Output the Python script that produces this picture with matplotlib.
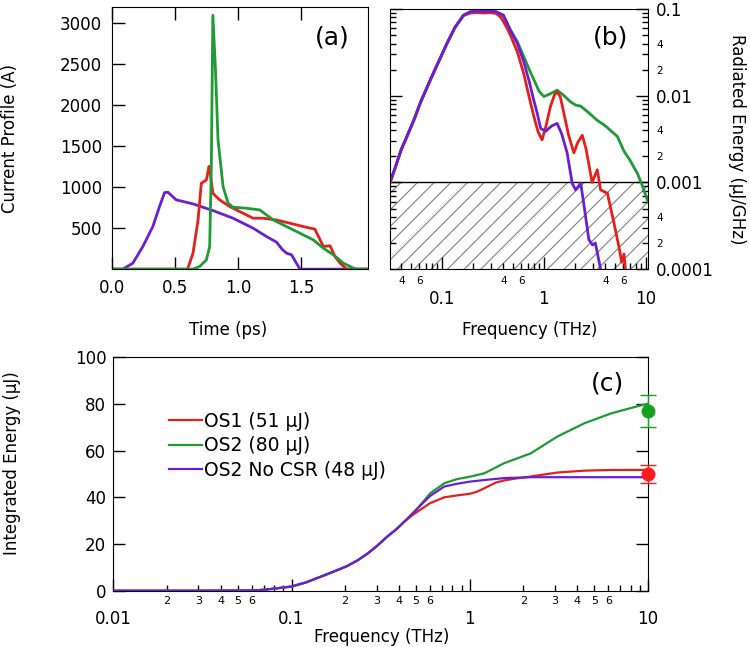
import numpy as np
import matplotlib
matplotlib.use('Agg')
import matplotlib.pyplot as plt
from matplotlib.ticker import FixedLocator, FuncFormatter

plt.rcParams['font.family'] = 'DejaVu Sans'
plt.rcParams['hatch.linewidth'] = 0.8

RED = '#e3201c'
GREEN = '#1f9a35'
PURPLE = '#6a1fd4'

# ---- panel (a): current profile vs time ----
t_os1 = [0.0, 0.60, 0.643, 0.683, 0.709, 0.749, 0.770, 0.780, 0.80, 0.854, 0.934, 1.013, 1.119, 1.198,
         1.304, 1.41, 1.516, 1.608, 1.675, 1.728, 1.767, 1.807, 1.86, 2.03]
i_os1 = [0, 0, 195, 600, 1049, 1090, 1255, 1170, 927, 846, 764, 703, 622, 622,
         600, 561, 520, 488, 276, 285, 154, 73, 0, 0]
t_os2 = [0.0, 0.643, 0.696, 0.749, 0.775, 0.788, 0.800, 0.820, 0.841, 0.881, 0.921, 0.960, 1.066, 1.172,
         1.278, 1.384, 1.489, 1.595, 1.675, 1.754, 1.833, 1.913, 1.94, 2.03]
i_os2 = [0, 0, 33, 114, 276, 1250, 3100, 2470, 1577, 1008, 805, 756, 744, 723,
         601, 520, 439, 358, 256, 175, 73, 12, 0, 0]
t_nocsr = [0.0, 0.087, 0.167, 0.246, 0.325, 0.378, 0.418, 0.444, 0.511, 0.643, 0.802, 0.960, 1.119,
           1.225, 1.304, 1.35, 1.384, 1.423, 1.489, 2.03]
i_nocsr = [0, 0, 73, 276, 520, 764, 935, 940, 846, 797, 715, 622, 500,
           398, 330, 240, 195, 175, 0, 0]

# ---- panel (b): radiated energy spectrum (log-log) ----
f_rise = [0.031, 0.035, 0.040, 0.045, 0.053, 0.062, 0.077, 0.090, 0.112, 0.135, 0.163, 0.19, 0.22, 0.26, 0.30, 0.34]
e_rise = [0.001, 0.0015, 0.0024, 0.0033, 0.0052, 0.0085, 0.0152, 0.0228, 0.040, 0.062, 0.085, 0.093, 0.095, 0.094, 0.095, 0.093]
e_rise_os1 = [0.001, 0.0015, 0.0024, 0.0033, 0.0052, 0.0085, 0.0152, 0.0228, 0.040, 0.062, 0.084, 0.090, 0.091, 0.090, 0.091, 0.089]

fb_os1 = [0.38, 0.43, 0.47, 0.55, 0.635, 0.72, 0.80, 0.88, 0.96, 1.05, 1.16, 1.27, 1.35, 1.45, 1.57, 1.75,
          1.97, 2.15, 2.38, 2.6, 2.97, 3.34, 3.6, 4.2, 4.87, 5.45, 5.8, 6.1, 6.3]
eb_os1 = [0.080, 0.062, 0.050, 0.032, 0.018, 0.0095, 0.0057, 0.0038, 0.0031, 0.0045, 0.0075, 0.0102, 0.0111,
          0.0097, 0.0063, 0.0035, 0.0022, 0.0029, 0.0035, 0.0024, 0.0010, 0.0014, 0.00082, 0.00075, 0.00034,
          0.00018, 0.00012, 0.00015, 0.0001]
fb_os2 = [0.40, 0.47, 0.55, 0.635, 0.72, 0.80, 0.90, 1.0, 1.15, 1.35, 1.55, 1.83, 2.05, 2.29, 2.7, 3.34,
          3.8, 4.19, 4.7, 5.25, 6.1, 7.0, 8.27, 9.3, 10.5]
eb_os2 = [0.085, 0.0573, 0.042, 0.0282, 0.020, 0.0152, 0.0112, 0.0098, 0.0105, 0.0116, 0.0102, 0.0085,
          0.0078, 0.0076, 0.0065, 0.0052, 0.0047, 0.0043, 0.0038, 0.0034, 0.0023, 0.0018, 0.00127, 0.0009, 0.0006]
fb_nocsr = [0.40, 0.47, 0.55, 0.635, 0.72, 0.796, 0.86, 0.93, 1.04, 1.2, 1.35, 1.5, 1.69, 1.9, 2.05, 2.3,
            2.5, 2.76, 3.0, 3.2, 3.6]
eb_nocsr = [0.085, 0.057, 0.040, 0.0247, 0.0145, 0.0089, 0.0063, 0.0042, 0.0039, 0.0045, 0.0048, 0.0036,
            0.0022, 0.00097, 0.00082, 0.00098, 0.0005, 0.00022, 0.00019, 0.0002, 0.0001]

# ---- panel (c): integrated energy ----
fc_low = [0.01, 0.03, 0.06, 0.07, 0.08, 0.1, 0.12, 0.147, 0.17, 0.203, 0.235, 0.268, 0.30, 0.345, 0.39, 0.43]
ec_low = [0, 0, 0.1, 0.4, 0.9, 1.8, 3.5, 6.1, 8.0, 10.4, 13.0, 16.0, 19.0, 23.2, 26.5, 29.6]
fc_os1 = [0.47, 0.51, 0.6, 0.72, 0.85, 1.0, 1.1, 1.21, 1.4, 1.56, 1.8, 2.2, 3.1, 4.4, 6.2, 8.75, 10]
ec_os1 = [32.0, 33.9, 37.5, 40.0, 40.8, 41.5, 42.4, 43.9, 46.3, 47.2, 48.0, 48.9, 50.6, 51.4, 51.7, 51.7, 51.7]
fc_os2 = [0.47, 0.51, 0.6, 0.72, 0.85, 1.0, 1.21, 1.56, 2.2, 3.1, 4.4, 6.2, 8.75, 10]
ec_os2 = [32.5, 35.3, 41.7, 46.0, 47.8, 48.8, 50.3, 54.6, 58.8, 66.0, 71.7, 75.9, 79.0, 80.0]
fc_nocsr = [0.47, 0.51, 0.6, 0.72, 0.85, 1.0, 1.21, 1.56, 2.2, 3.1, 10]
ec_nocsr = [32.5, 35.3, 40.6, 44.6, 45.8, 46.7, 47.4, 48.2, 48.6, 48.6, 48.6]

meas_f = [10, 10]
meas_e = [77, 50]
meas_err = [7, 4]
labels = ['OS1 (51 µJ)', 'OS2 (80 µJ)', 'OS2 No CSR (48 µJ)']


def minor_fmt(keep):
    def f(v, pos):
        m = int(round(v / 10 ** np.floor(np.log10(v) + 1e-9)))
        return str(m) if m in keep else ''
    return FuncFormatter(f)


def minor_positions(lo, hi):
    out = []
    for d in range(lo, hi):
        for m in range(2, 10):
            out.append(m * 10.0 ** d)
    return out


fig = plt.figure(figsize=(7.5, 6.47), dpi=100)

# (a)
ax1 = fig.add_axes([0.149, 0.584, 0.342, 0.405])
ax1.plot(t_nocsr, i_nocsr, color=PURPLE, lw=2)
ax1.plot(t_os1, i_os1, color=RED, lw=2)
ax1.plot(t_os2, i_os2, color=GREEN, lw=2)
ax1.set_xlim(0, 2.03)
ax1.set_ylim(0, 3200)
ax1.set_xticks([0.0, 0.5, 1.0, 1.5])
ax1.set_xticklabels(['0.0', '0.5', '1.0', '1.5'])
ax1.set_yticks([500, 1000, 1500, 2000, 2500, 3000])
ax1.tick_params(direction='in', length=9, width=1, top=True, right=False, labelsize=12, pad=7)
ax1.set_xlabel('Time (ps)', fontsize=12)
ax1.set_ylabel('Current Profile (A)', fontsize=12)
ax1.xaxis.set_label_coords(0.453, -0.198)
ax1.yaxis.set_label_coords(-0.36, 0.5)
ax1.text(0.86, 0.885, '(a)', transform=ax1.transAxes, fontsize=18, ha='center', va='center')

# (b)
ax2 = fig.add_axes([0.52, 0.584, 0.344, 0.402])
ax2.axhspan(1e-4, 1e-3, facecolor='none', edgecolor='#808080', hatch='//', lw=0, zorder=0)
ax2.axhline(1e-3, color='k', lw=1, zorder=1)
ax2.plot(f_rise + fb_os2, e_rise + eb_os2, color=GREEN, lw=2)
ax2.plot(f_rise + fb_os1, e_rise_os1 + eb_os1, color=RED, lw=2)
ax2.plot(f_rise + fb_nocsr, e_rise + eb_nocsr, color=PURPLE, lw=2)
ax2.set_xscale('log')
ax2.set_yscale('log')
ax2.set_xlim(0.031, 10.5)
ax2.set_ylim(1e-4, 1e-1)
ax2.xaxis.set_major_locator(FixedLocator([0.1, 1, 10]))
ax2.xaxis.set_major_formatter(FuncFormatter(lambda v, p: f'{v:g}'))
ax2.xaxis.set_minor_locator(FixedLocator(minor_positions(-2, 1)))
ax2.xaxis.set_minor_formatter(minor_fmt({4, 6}))
ax2.yaxis.set_major_locator(FixedLocator([1e-4, 1e-3, 1e-2, 1e-1]))
ax2.yaxis.set_major_formatter(FuncFormatter(lambda v, p: f'{v:g}'))
ax2.yaxis.set_minor_locator(FixedLocator(minor_positions(-4, -1)))
ax2.yaxis.set_minor_formatter(minor_fmt({2, 4}))
ax2.yaxis.tick_right()
ax2.yaxis.set_label_position('right')
ax2.tick_params(which='both', direction='in', width=1, left=True, right=True, top=False)
ax2.tick_params(which='major', length=8.5, labelsize=12)
ax2.tick_params(which='minor', length=4, labelsize=7.5)
ax2.tick_params(axis='x', which='major', pad=15)
ax2.tick_params(axis='x', which='minor', pad=5)
ax2.tick_params(axis='y', which='both', pad=6)
ax2.set_xlabel('Frequency (THz)', fontsize=12)
ax2.set_ylabel('Radiated Energy (µJ/GHz)', fontsize=12, rotation=270, va='bottom')
ax2.xaxis.set_label_coords(0.54, -0.2)
ax2.yaxis.set_label_coords(1.31, 0.5)
ax2.text(0.853, 0.892, '(b)', transform=ax2.transAxes, fontsize=18, ha='center', va='center')

# (c)
ax3 = fig.add_axes([0.151, 0.087, 0.713, 0.361])
h1, = ax3.plot(fc_low + fc_os1, ec_low + ec_os1, color=RED, lw=1.6, zorder=2)
h2, = ax3.plot(fc_low + fc_os2, ec_low + ec_os2, color=GREEN, lw=1.6, zorder=2)
h3, = ax3.plot(fc_low + fc_nocsr, ec_low + ec_nocsr, color=PURPLE, lw=1.6, zorder=3)
for fv, ev, er, c in zip(meas_f, meas_e, meas_err, ['#16a020', '#ff1c1c']):
    ax3.errorbar([fv], [ev], yerr=[er], fmt='o', color=c, ms=9, capsize=6, elinewidth=1,
                 capthick=1, clip_on=False, zorder=5)
ax3.set_xscale('log')
ax3.set_xlim(0.01, 10)
ax3.set_ylim(0, 100)
ax3.xaxis.set_major_locator(FixedLocator([0.01, 0.1, 1, 10]))
ax3.xaxis.set_major_formatter(FuncFormatter(lambda v, p: f'{v:g}'))
ax3.xaxis.set_minor_locator(FixedLocator(minor_positions(-2, 1)))
ax3.xaxis.set_minor_formatter(minor_fmt({2, 3, 4, 5, 6}))
ax3.set_yticks([0, 20, 40, 60, 80, 100])
ax3.tick_params(which='both', direction='in', width=1, top=False, right=True)
ax3.tick_params(which='major', length=8.5, labelsize=12)
ax3.tick_params(which='minor', length=4.5, labelsize=8)
ax3.tick_params(axis='x', which='major', pad=14)
ax3.tick_params(axis='x', which='minor', pad=4)
ax3.tick_params(axis='y', pad=5)
ax3.set_xlabel('Frequency (THz)', fontsize=12)
ax3.set_ylabel('Integrated Energy (µJ)', fontsize=12)
ax3.xaxis.set_label_coords(0.502, -0.158)
ax3.yaxis.set_label_coords(-0.172, 0.547)
ax3.text(0.925, 0.888, '(c)', transform=ax3.transAxes, fontsize=18, ha='center', va='center')
ax3.legend([h1, h2, h3], labels, loc='center left', bbox_to_anchor=(0.105, 0.62), frameon=False,
           fontsize=13.5, handlelength=1.75, handletextpad=0.1, labelspacing=0.3,
           borderpad=0, borderaxespad=0)

fig.savefig('out.png', dpi=100)
